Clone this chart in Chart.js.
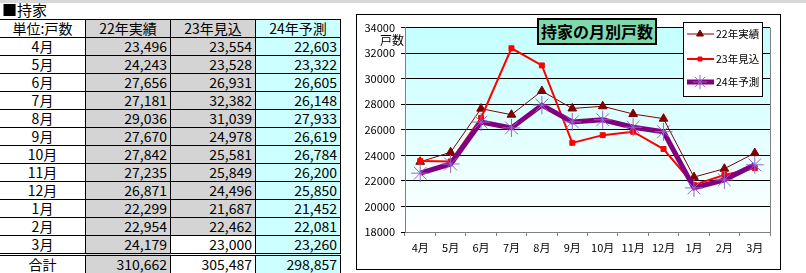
<!DOCTYPE html>
<html>
<head>
<meta charset="utf-8">
<script src="https://cdn.jsdelivr.net/npm/chart.js@4.4.1/dist/chart.umd.min.js"></script>
<style>
  body { margin: 0; background: #fff; width: 806px; height: 273px; position: relative; overflow: hidden;
         font-family: "Noto Sans CJK JP", "Noto Sans", sans-serif; }
  #strip { position: absolute; left: 0; top: 0; width: 806px; height: 3px; background: #d8d8d8; }
  #ttl { position: absolute; left: 2px; top: 1px; font-size: 15px; line-height: 18px; }
  #tbl { position: absolute; left: -1px; top: 19px; border-collapse: collapse; font-size: 14px; }
  #tbl td { border: 1px solid #000; height: 17px; padding: 0 3px; line-height: 17px; box-sizing: border-box; white-space: nowrap; }
  #tbl td.lab { width: 86px; text-align: center; background: #fff; }
  #tbl td.num { width: 85px; text-align: right; }
  #tbl td.hd { text-align: center; }
  #tbl td.g { background: #d4d4d4; }
  #tbl td.c { background: #ccffff; }
  #tbl td.w { background: #fff; }
  #tbl tr.sum td { border-top: 3px double #000; }
  #box { position: absolute; left: 356px; top: 14px; width: 425px; height: 256px; border: 1px solid #000; box-sizing: border-box; }
  #box canvas { position: absolute; left: 0; top: 0; }
  #title { position: absolute; left: 537px; top: 18px; width: 120px; height: 27px; box-sizing: border-box; white-space: nowrap;
           background: #7fd8ae; border: 2px solid #000; font-size: 16px; font-weight: bold; text-align: center; line-height: 23px; }
</style>
</head>
<body>
<div id="strip"></div>
<div id="ttl">■持家</div>
<table id="tbl"></table>
<div id="box"><canvas id="chart" width="423" height="254"></canvas></div>
<div id="title">持家の月別戸数</div>
<script>
const months = ['4月','5月','6月','7月','8月','9月','10月','11月','12月','1月','2月','3月'];
const seriesNames = ['22年実績','23年見込','24年予測'];
const actual22 = [23496, 24243, 27656, 27181, 29036, 27670, 27842, 27235, 26871, 22299, 22954, 24179];
const estimate23 = [23554, 23528, 26931, 32382, 31039, 24978, 25581, 25849, 24496, 21687, 22462, 23000];
const forecast24 = [22603, 23322, 26605, 26148, 27933, 26619, 26784, 26200, 25850, 21452, 22081, 23260];
const totals = [310662, 305487, 298857];
const unitLabel = '単位:戸数';
const totalLabel = '合計';
const yMin = 18000, yMax = 34000, yStep = 2000;

// table
const fmt = n => n.toLocaleString('en-US');
let html = '<tr><td class="lab">' + unitLabel + '</td>' +
  '<td class="num hd g">' + seriesNames[0] + '</td>' +
  '<td class="num hd g">' + seriesNames[1] + '</td>' +
  '<td class="num hd c">' + seriesNames[2] + '</td></tr>';
for (let i = 0; i < months.length; i++) {
  // 3月 of 23年見込 is left white in the source sheet
  const c23 = (i === months.length - 1) ? 'w' : 'g';
  html += '<tr><td class="lab">' + months[i] + '</td>' +
    '<td class="num g">' + fmt(actual22[i]) + '</td>' +
    '<td class="num ' + c23 + '">' + fmt(estimate23[i]) + '</td>' +
    '<td class="num c">' + fmt(forecast24[i]) + '</td></tr>';
}
html += '<tr class="sum"><td class="lab">' + totalLabel + '</td>' +
  '<td class="num g">' + fmt(totals[0]) + '</td>' +
  '<td class="num w">' + fmt(totals[1]) + '</td>' +
  '<td class="num c">' + fmt(totals[2]) + '</td></tr>';
document.getElementById('tbl').innerHTML = html;

// chart
const font = { family: '"Noto Sans CJK JP", sans-serif', size: 11 };

const decor = {
  id: 'decor',
  beforeDraw(chart) {
    const { ctx, chartArea: a } = chart;
    const g = ctx.createLinearGradient(0, a.top, 0, a.bottom);
    g.addColorStop(0, '#c4ffff');
    g.addColorStop(1, '#ffffff');
    ctx.save();
    ctx.fillStyle = g;
    ctx.fillRect(a.left, a.top, a.right - a.left, a.bottom - a.top);
    ctx.restore();
  },
  beforeDatasetsDraw(chart) {
    const { ctx, chartArea: a } = chart;
    ctx.save();
    ctx.strokeStyle = '#808080';
    ctx.lineWidth = 1;
    ctx.beginPath();
    ctx.moveTo(a.right + 0.5, a.top);
    ctx.lineTo(a.right + 0.5, a.bottom);
    ctx.stroke();
    ctx.fillStyle = '#000';
    ctx.font = '12px "Noto Sans CJK JP", sans-serif';
    ctx.textAlign = 'right';
    ctx.textBaseline = 'middle';
    ctx.fillText('戸数', a.left - 1, a.top + 13);
    ctx.restore();
  },
  afterDraw(chart) {
    const ctx = chart.ctx;
    const x0 = 326, y0 = 7, w = 79, h = 74;
    const rows = [19, 44, 67];
    ctx.save();
    ctx.fillStyle = '#fff';
    ctx.fillRect(x0, y0, w, h);
    ctx.strokeStyle = '#000';
    ctx.lineWidth = 1;
    ctx.strokeRect(x0 + 0.5, y0 + 0.5, w, h);
    chart.data.datasets.forEach((ds, i) => {
      const y = rows[i];
      ctx.strokeStyle = ds.borderColor;
      ctx.lineWidth = ds.borderWidth;
      ctx.beginPath();
      ctx.moveTo(x0 + 4, y);
      ctx.lineTo(x0 + 31, y);
      ctx.stroke();
      ctx.fillStyle = ds.pointBackgroundColor;
      ctx.strokeStyle = ds.pointBorderColor;
      ctx.lineWidth = ds.pointBorderWidth;
      Chart.helpers.drawPoint(ctx, { pointStyle: ds.pointStyle, radius: ds.pointRadius * 0.8, rotation: 0, borderWidth: ds.pointBorderWidth }, x0 + 17, y);
      ctx.fillStyle = '#000';
      ctx.font = '10.5px "Noto Sans CJK JP", sans-serif';
      ctx.textAlign = 'left';
      ctx.textBaseline = 'middle';
      ctx.fillText(ds.label, x0 + 33, y);
    });
    ctx.restore();
  }
};

new Chart(document.getElementById('chart'), {
  type: 'line',
  data: {
    labels: months,
    datasets: [
      {
        label: seriesNames[0], data: actual22, order: 3,
        borderColor: '#800000', borderWidth: 1,
        pointStyle: 'triangle', pointRadius: 5,
        pointBackgroundColor: '#800000', pointBorderColor: '#800000', pointBorderWidth: 1
      },
      {
        label: seriesNames[1], data: estimate23, order: 2,
        borderColor: '#ff0000', borderWidth: 2,
        pointStyle: 'rect', pointRadius: 3.5,
        pointBackgroundColor: '#ff0000', pointBorderColor: '#ff0000', pointBorderWidth: 1
      },
      {
        label: seriesNames[2], data: forecast24, order: 1,
        borderColor: '#800080', borderWidth: 5,
        pointStyle: 'star', pointRadius: 9,
        pointBackgroundColor: '#9966cc', pointBorderColor: '#9966cc', pointBorderWidth: 1
      }
    ]
  },
  options: {
    responsive: false,
    animation: false,
    tension: 0,
    layout: { padding: { left: 0, right: 9, top: 12, bottom: 9 } },
    plugins: { legend: { display: false }, tooltip: { enabled: false } },
    scales: {
      x: {
        offset: true,
        afterFit: s => { s.height = 28; },
        grid: { drawOnChartArea: false, drawTicks: true, tickLength: 4, color: '#808080', offset: true },
        border: { color: '#808080' },
        ticks: { color: '#000', font: font, padding: 5, maxRotation: 0, autoSkip: false }
      },
      y: {
        min: yMin, max: yMax,
        afterFit: s => { s.width = 48; },
        grid: { color: '#000', tickLength: 4, drawTicks: true },
        border: { color: '#808080' },
        ticks: { stepSize: yStep, color: '#000', font: font, padding: 6, callback: v => String(v) }
      }
    }
  },
  plugins: [decor]
});
</script>
</body>
</html>
